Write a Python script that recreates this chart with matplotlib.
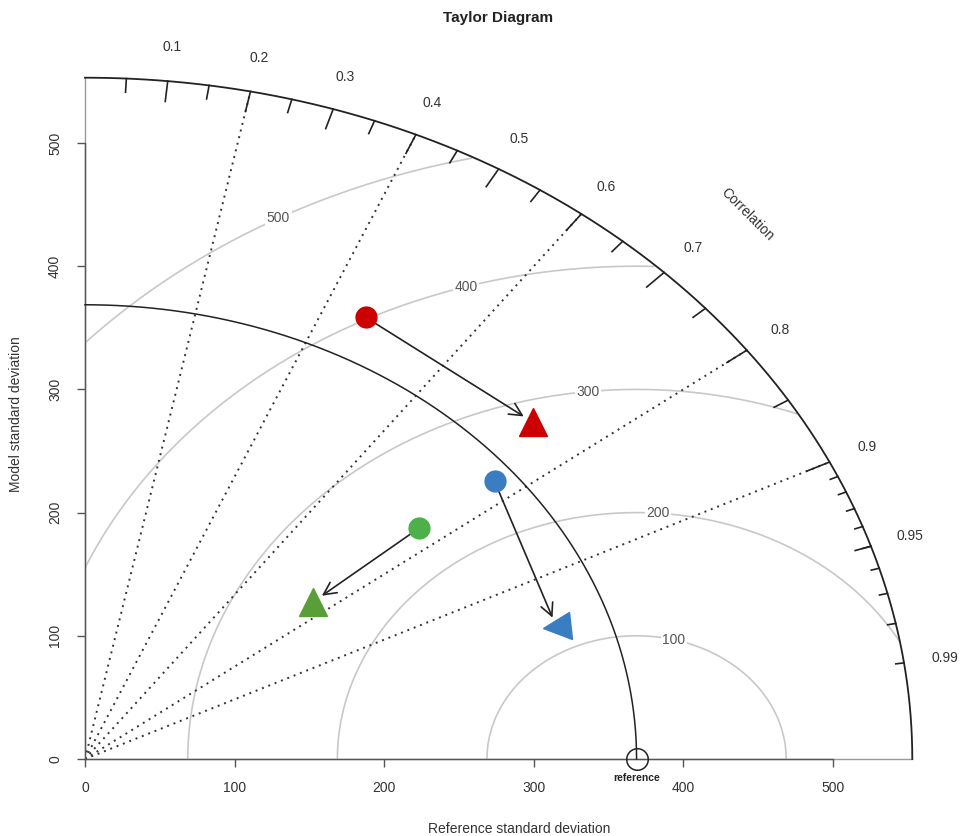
"""Taylor diagram: model runs before/after, against a reference."""
import numpy as np
import matplotlib
matplotlib.use("Agg")
import matplotlib.pyplot as plt
from matplotlib.markers import MarkerStyle
from matplotlib.transforms import Affine2D

plt.rcParams["font.family"] = ["Liberation Sans", "DejaVu Sans"]

# --- data -------------------------------------------------------------
ref_sd = 368.7
max_sd = 553.0
gamma_levels = [100, 200, 300, 400, 500]
cor_labels = [0.1, 0.2, 0.3, 0.4, 0.5, 0.6, 0.7, 0.8, 0.9, 0.95, 0.99]
cor_lines = [0.2, 0.4, 0.6, 0.8, 0.9]
sd_ticks = [0, 100, 200, 300, 400, 500]

# model points (sd, correlation): first run -> second run
colors = ["#CC0000", "#3A7DC0", "#4DB04A"]
tri_colors = ["#CC0000", "#3A7DC0", "#5A9E3A"]
sd_before = [404.6, 354.6, 291.9]
cor_before = [0.464, 0.772, 0.766]
sd_after = [405.4, 332.9, 199.0]
cor_after = [0.738, 0.947, 0.767]

C_GAMMA = "#C8C8C8"
C_TEXT = "#333333"

fig = plt.figure(figsize=(9.64, 8.36), dpi=100)
ax = fig.add_axes([85 / 964, 77 / 836, 580 * 1.496 / 964, 560 * 1.232 / 836])
ax.set_xlim(0, 580)
ax.set_ylim(0, 560)

# axis lines out to max sd (light), R-style axes to 500 (dark)
ax.plot([0, max_sd], [0, 0], color="#999999", lw=1.0, zorder=1, clip_on=False)
ax.plot([0, 0], [0, max_sd], color="#999999", lw=1.0, zorder=1, clip_on=False)
for side in ["top", "right"]:
    ax.spines[side].set_visible(False)
for side in ["left", "bottom"]:
    ax.spines[side].set_bounds(0, 500)
    ax.spines[side].set_color("#555555")
    ax.spines[side].set_linewidth(1.0)
ax.set_xticks(sd_ticks)
ax.set_yticks(sd_ticks)
ax.set_xticklabels([str(t) for t in sd_ticks])
ax.set_yticklabels([str(t) for t in sd_ticks], rotation=90, va="center")
ax.tick_params(direction="out", length=5.5, width=1.0, color="#555555",
               labelsize=10, labelcolor=C_TEXT)
ax.tick_params(axis="x", pad=10)
ax.tick_params(axis="y", pad=11)
ax.set_xlabel("Reference standard deviation", fontsize=10, color=C_TEXT, labelpad=20)
ax.set_ylabel("Model standard deviation", fontsize=10, color=C_TEXT, labelpad=18)

# RMS (gamma) contours around the reference point
t = np.linspace(0, np.pi, 600)
label_ang = [1.32, 1.50, 1.68, 1.86, 2.07]
for g, la in zip(gamma_levels, label_ang):
    gx = ref_sd + g * np.cos(t)
    gy = g * np.sin(t)
    inside = (gx >= 0) & (np.hypot(gx, gy) <= max_sd)
    gx = np.where(inside, gx, np.nan)
    gy = np.where(inside, gy, np.nan)
    ax.plot(gx, gy, color=C_GAMMA, lw=1.2, zorder=1)
    ax.text(ref_sd + g * np.cos(la), g * np.sin(la), str(g), fontsize=10,
            color="#555555", ha="center", va="center", zorder=2,
            bbox=dict(boxstyle="square,pad=0.1", fc="white", ec="none"))

# outer arc and reference-sd arc
a = np.linspace(0, np.pi / 2, 300)
ax.plot(max_sd * np.cos(a), max_sd * np.sin(a), color="#222222", lw=1.3,
        zorder=3, clip_on=False)
ax.plot(ref_sd * np.cos(a), ref_sd * np.sin(a), color="#222222", lw=1.1,
        zorder=3, clip_on=False)

# radial dotted correlation lines
for c in cor_lines:
    ang = np.arccos(c)
    ax.plot([0, max_sd * np.cos(ang)], [0, max_sd * np.sin(ang)],
            color="#333333", lw=1.4, linestyle=(0, (1, 2.5)), zorder=2)

# correlation ticks
big = np.arange(0.1, 0.91, 0.1)
med = np.arange(0.05, 0.96, 0.1)
sml = np.arange(0.91, 0.995, 0.01)
for vals, frac in [(big, 0.97), (med, 0.98), (sml, 0.99)]:
    ang = np.arccos(vals)
    for an in ang:
        ax.plot([max_sd * np.cos(an), frac * max_sd * np.cos(an)],
                [max_sd * np.sin(an), frac * max_sd * np.sin(an)],
                color="#222222", lw=1.2, zorder=3, clip_on=False)
for c in cor_labels:
    an = np.arccos(c)
    ax.text(1.05 * max_sd * np.cos(an), 1.05 * max_sd * np.sin(an), f"{c:g}",
            fontsize=10, color=C_TEXT, ha="center", va="center", clip_on=False)
ax.text(0.8 * max_sd, 0.8 * max_sd, "Correlation", rotation=-45, fontsize=10,
        color=C_TEXT, ha="center", va="center")

# reference point
ax.plot([ref_sd], [0], "o", mfc="none", mec="#222222", ms=15.5, mew=1.1,
        zorder=5, clip_on=False)
ax.annotate("reference", (ref_sd, 0), textcoords="offset points", xytext=(0, -14),
            ha="center", va="center", fontsize=7.5, fontweight="bold",
            color="#222222", annotation_clip=False)

# models: arrows from first to second run
tri_markers = ["^", MarkerStyle("<", transform=Affine2D().rotate_deg(6)), "^"]
for i in range(len(sd_before)):
    x0 = sd_before[i] * cor_before[i]
    y0 = sd_before[i] * np.sqrt(1 - cor_before[i] ** 2)
    x1 = sd_after[i] * cor_after[i]
    y1 = sd_after[i] * np.sqrt(1 - cor_after[i] ** 2)
    ax.annotate("", xy=(x1, y1), xytext=(x0, y0), zorder=4,
                arrowprops=dict(arrowstyle="->,head_length=0.9,head_width=0.45",
                                mutation_scale=10, color="#222222", lw=1.2,
                                shrinkA=0, shrinkB=7.5))
    ax.plot([x0], [y0], "o", color=colors[i], ms=15, mec=colors[i], zorder=6)
    ax.plot([x1], [y1], marker=tri_markers[i], color=tri_colors[i], ms=20,
            mec=tri_colors[i], zorder=6, linestyle="none")

fig.text(498 / 964, 1 - 18 / 836, "Taylor Diagram", fontsize=11, fontweight="bold",
         ha="center", va="center", color="#222222")

fig.savefig("out.png", dpi=100, facecolor="white")
plt.close(fig)
